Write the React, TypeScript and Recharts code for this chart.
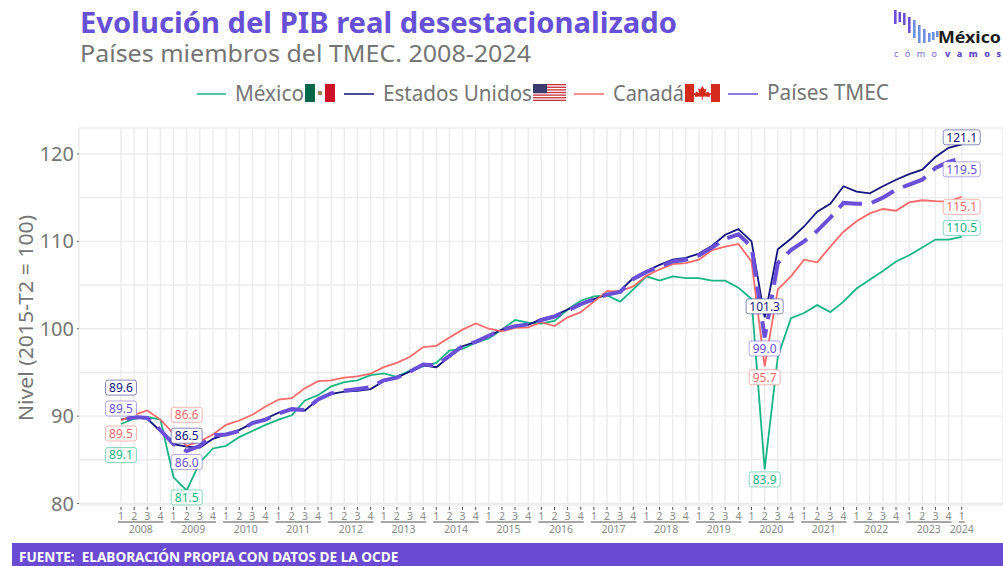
import { LineChart, Line, XAxis, YAxis, CartesianGrid, LabelList } from 'recharts';

const years = [2008, 2009, 2010, 2011, 2012, 2013, 2014, 2015, 2016, 2017, 2018, 2019, 2020, 2021, 2022, 2023, 2024];

const mexico = [
  89.1, 89.7, 89.9, 89.6,
  83.0, 81.5, 84.7, 86.3,
  86.6, 87.6, 88.3, 89.0,
  89.6, 90.1, 91.8, 92.4,
  93.4, 93.9, 94.1, 94.7,
  94.9, 94.5, 95.2, 95.7,
  96.1, 97.5, 97.7, 98.4,
  98.9, 99.9, 101.0, 100.7,
  100.6, 100.9, 102.2, 103.2,
  103.7, 103.8, 103.1, 104.5,
  106.0, 105.5, 106.0, 105.8,
  105.8, 105.5, 105.5, 104.7,
  103.4, 83.9, 96.8, 101.2,
  101.8, 102.7, 101.9, 103.1,
  104.6, 105.6, 106.6, 107.7,
  108.4, 109.3, 110.2, 110.2,
  110.5,
];

const estadosUnidos = [
  89.6, 89.9, 89.7, 88.3,
  86.8, 86.5, 86.4, 87.4,
  87.9, 88.4, 89.2, 89.7,
  90.4, 90.8, 90.65, 91.9,
  92.55, 92.8, 92.9, 93.1,
  94.0, 94.4, 95.1, 95.8,
  95.6, 96.8, 98.0, 98.5,
  99.2, 99.9, 100.3, 100.45,
  101.1, 101.5, 102.2, 102.9,
  103.4, 103.9, 104.35, 105.8,
  106.6, 107.3, 107.9, 108.1,
  108.6, 109.5, 110.75, 111.4,
  110.0, 101.3, 109.1, 110.3,
  111.7, 113.4, 114.3, 116.3,
  115.7, 115.5, 116.3, 117.05,
  117.7, 118.2, 119.65, 120.7,
  121.1,
];

const canada = [
  89.5, 90.15, 90.65, 89.6,
  88.0, 86.6, 87.1, 87.9,
  89.0, 89.5, 90.15, 91.1,
  91.9, 92.05, 93.2, 94.0,
  94.1, 94.4, 94.55, 94.85,
  95.6, 96.1, 96.8, 97.9,
  98.05, 99.0, 99.9, 100.6,
  100.0, 99.7, 100.1, 100.15,
  100.75, 100.3, 101.3, 101.9,
  103.1, 104.3, 104.3, 104.85,
  106.05, 106.8, 107.4, 107.5,
  107.9, 109.0, 109.4, 109.7,
  107.7, 95.7, 104.5, 106.0,
  107.9, 107.6, 109.4, 111.1,
  112.3, 113.2, 113.7, 113.5,
  114.45, 114.7, 114.6, 114.55,
  115.1,
];

const paisesTmec = [
  89.5, 89.9, 89.8, 88.4,
  86.8, 86.0, 86.6, 87.8,
  87.9, 88.3, 89.2, 89.6,
  90.3, 90.8, 90.7, 91.9,
  92.6, 92.9, 93.1, 93.3,
  94.1, 94.4, 95.1, 95.9,
  95.8, 96.9, 98.0, 98.5,
  99.2, 99.9, 100.3, 100.5,
  101.0, 101.4, 102.1, 102.8,
  103.4, 103.9, 104.2, 105.7,
  106.5, 107.1, 107.7, 107.9,
  108.4, 109.3, 110.3, 110.8,
  109.4, 99.0, 107.5, 109.0,
  110.0, 111.2, 112.7, 114.4,
  114.3, 114.3, 115.0, 115.9,
  116.5, 117.05, 118.4, 119.1,
  119.5,
];

const yTicks = [80, 85, 90, 95, 100, 105, 110, 115, 120];

// one row per quarter, year + quarter come from the position in the arrays
const data = mexico.map((_, i) => ({
  key: `${years[Math.floor(i / 4)]}-${(i % 4) + 1}`,
  mexico: mexico[i],
  eu: estadosUnidos[i],
  canada: canada[i],
  tmec: paisesTmec[i],
}));

const series = [
  { key: 'mexico', color: '#17b584', width: 1.8, labelDy: { 0: 31, 5: 7, 49: 10, 64: -9 } },
  { key: 'eu', color: '#14147e', width: 1.8, labelDy: { 0: -32, 5: -11, 49: -11, 64: -7 } },
  { key: 'canada', color: '#fb6a6a', width: 1.8, labelDy: { 0: 13, 5: -31, 49: 11, 64: 10 } },
  { key: 'tmec', color: '#6a50d8', width: 4, dash: '25 10', labelDy: { 0: -12, 5: 11, 49: 11, 64: 11 } },
];

const FONT = '"Noto Sans", sans-serif';
const GRAY = '#757575';
const STEP = 13.135;

const QuarterTick = ({ x, y, index }: any) => {
  const q = (index % 4) + 1;
  const year = years[Math.floor(index / 4)];
  const isLast = index === mexico.length - 1;
  return (
    <g fontFamily={FONT} fill="#8a8a8a">
      <line x1={x} x2={x} y1={507} y2={510} stroke="#555" strokeWidth={1} />
      <text x={x} y={520} fontSize={10.5} textAnchor="middle">{q}</text>
      {q === 1 && (
        <>
          <line
            x1={x - 3}
            x2={isLast ? x + 3 : x + 3 * STEP + 3}
            y1={522}
            y2={522}
            stroke="#8a8a8a"
            strokeWidth={1.4}
          />
          <text x={isLast ? x : x + 1.5 * STEP} y={533} fontSize={10.5} textAnchor="middle">{year}</text>
        </>
      )}
    </g>
  );
};

const LevelTick = ({ x, y, payload }: any) => {
  if (payload.value % 10 !== 0) return null;
  return (
    <g>
      <line x1={77} x2={79} y1={y} y2={y} stroke="#666" strokeWidth={1} />
      <text x={74} y={y + 7} fontSize={20} fontFamily={FONT} fill={GRAY} textAnchor="end">
        {payload.value}
      </text>
    </g>
  );
};

const boxLabel = (color: string, offsets: any) => (props: any) => {
  const { x, y, value, index } = props;
  const dy = offsets[index];
  if (dy === undefined) return null;
  const w = value >= 100 ? 37 : 31;
  const text = Number(value).toFixed(1);
  return (
    <g>
      <rect
        x={x - w / 2}
        y={y + dy - 7.5}
        width={w}
        height={15}
        rx={2.5}
        fill="#fff"
        stroke={color}
        strokeOpacity={0.5}
        strokeWidth={1}
      />
      <text x={x} y={y + dy + 4.5} fontSize={12} fontFamily={FONT} fill={color} textAnchor="middle">
        {text}
      </text>
    </g>
  );
};

const Mexico = ({ x }: { x: number }) => (
  <g transform={`translate(${x},84)`}>
    <rect width={10} height={18} fill="#006847" />
    <rect x={10} width={10} height={18} fill="#fff" />
    <rect x={20} width={10} height={18} fill="#ce1126" />
    <circle cx={15} cy={9} r={2.2} fill="#9a7b4f" />
  </g>
);

const Usa = ({ x }: { x: number }) => (
  <g transform={`translate(${x},84)`}>
    <rect width={33} height={17} fill="#fff" />
    {[0, 2, 4, 6, 8, 10, 12].map((s) => (
      <rect key={s} y={(s * 17) / 13} width={33} height={17 / 13} fill="#c8313e" />
    ))}
    <rect width={14} height={9.2} fill="#3c3b6e" />
  </g>
);

const Canada = ({ x }: { x: number }) => (
  <g transform={`translate(${x},84)`}>
    <rect width={35} height={18} fill="#fff" />
    <rect width={9} height={18} fill="#d52b1e" />
    <rect x={26} width={9} height={18} fill="#d52b1e" />
    <path
      d="M17.5 2 l2 3.5 2-1 -1 4.5 3-1.5 .5 1.5 2.5 .5 -2 2.5 .5 1 -5 -.5 -2.2 .3 v3 h-1 v-3 l-2.2 -.3 -5 .5 .5 -1 -2 -2.5 2.5 -.5 .5 -1.5 3 1.5 -1 -4.5 2 1z"
      fill="#d52b1e"
    />
  </g>
);

const Header = () => (
  <svg width={1003} height={128} style={{ position: 'absolute', left: 0, top: 0 }} fontFamily={FONT}>
    <text x={80} y={33} fontSize={28} fontWeight={700} fill="#6650d8" textLength={597} lengthAdjust="spacingAndGlyphs">
      Evolución del PIB real desestacionalizado
    </text>
    <text x={80} y={62} fontSize={24} fill={GRAY} textLength={451} lengthAdjust="spacingAndGlyphs">
      Países miembros del TMEC. 2008-2024
    </text>

    <line x1={197} x2={226} y1={94} y2={94} stroke="#17b584" strokeWidth={1.5} />
    <text x={235} y={101} fontSize={21} fill={GRAY} textLength={69} lengthAdjust="spacingAndGlyphs">México</text>
    <Mexico x={305} />
    <line x1={344} x2={374} y1={94} y2={94} stroke="#14147e" strokeWidth={1.5} />
    <text x={383} y={101} fontSize={21} fill={GRAY} textLength={149} lengthAdjust="spacingAndGlyphs">Estados Unidos</text>
    <Usa x={533} />
    <line x1={574} x2={604} y1={94} y2={94} stroke="#fb6a6a" strokeWidth={1.5} />
    <text x={613} y={101} fontSize={21} fill={GRAY} textLength={71} lengthAdjust="spacingAndGlyphs">Canadá</text>
    <Canada x={685} />
    <line x1={728} x2={758} y1={94} y2={94} stroke="#6a50d8" strokeWidth={1.5} />
    <text x={767} y={100} fontSize={21} fill={GRAY} textLength={122} lengthAdjust="spacingAndGlyphs">Países TMEC</text>

    {/* logo */}
    {[
      [894, 10, 14], [898.5, 12, 10], [903, 13, 12], [908, 17, 16], [913, 20, 18],
      [918, 25, 18], [923, 29, 14], [928, 33, 9], [932, 32, 8], [936, 31, 6],
    ].map(([bx, by, bh], i) => (
      <rect key={i} x={bx} y={by} width={2.6} height={bh} fill={i < 4 ? '#6a50d8' : '#6f8fe0'} />
    ))}
    <text x={938} y={43} fontSize={16.5} fontWeight={700} fill="#1c1c1c" textLength={63} lengthAdjust="spacingAndGlyphs">México</text>
    <text x={894} y={57} fontSize={9} fill="#7d6be0" textLength={43}>cómo</text>
    <text x={945} y={57} fontSize={9} fontWeight={800} fill="#5a45c8" textLength={56}>vamos</text>
  </svg>
);

export default function App() {
  return (
    <div style={{ position: 'absolute', left: 0, top: 0, width: 1003, height: 566, background: '#fff', overflow: 'hidden' }}>
      <Header />
      <div style={{ position: 'absolute', left: 0, top: 0 }}>
        <LineChart width={1003} height={566} data={data} margin={{ top: 128, right: 0, bottom: 0, left: 0 }}>
          <CartesianGrid stroke="#ececec" strokeWidth={1.4} />
          <XAxis
            dataKey="key"
            interval={0}
            height={61}
            padding={{ left: 42, right: 41.3 }}
            axisLine={false}
            tickLine={false}
            tick={QuarterTick}
          />
          <YAxis
            width={79}
            domain={[79.83, 122.97]}
            ticks={yTicks}
            interval={0}
            allowDataOverflow
            axisLine={false}
            tickLine={false}
            tick={LevelTick}
          />
          {series.map((s) => (
            <Line
              key={s.key}
              dataKey={s.key}
              stroke={s.color}
              strokeWidth={s.width}
              strokeDasharray={s.dash}
              strokeDashoffset={s.dash ? -6 : undefined}
              dot={false}
              activeDot={false}
              isAnimationActive={false}
            />
          ))}
          {/* labels go in a second pass so they sit above every line */}
          {series.map((s) => (
            <Line
              key={`${s.key}-labels`}
              dataKey={s.key}
              stroke="none"
              dot={false}
              activeDot={false}
              isAnimationActive={false}
            >
              <LabelList dataKey={s.key} content={boxLabel(s.color, s.labelDy)} />
            </Line>
          ))}
        </LineChart>
      </div>
      <svg width={40} height={300} style={{ position: 'absolute', left: 0, top: 170 }}>
        <text
          transform="translate(33,148) rotate(-90)"
          fontSize={20}
          fontFamily={FONT}
          fill={GRAY}
          textAnchor="middle"
          textLength={206}
          lengthAdjust="spacingAndGlyphs"
        >
          Nivel (2015-T2 = 100)
        </text>
      </svg>
      <div
        style={{
          position: 'absolute',
          left: 12,
          top: 543,
          right: 0,
          height: 23,
          background: '#6a4ad2',
          color: '#fff',
          fontFamily: FONT,
          fontWeight: 700,
          fontSize: 13.6,
          lineHeight: '28px',
          paddingLeft: 7,
          whiteSpace: 'pre',
        }}
      >
        FUENTE:  ELABORACIÓN PROPIA CON DATOS DE LA OCDE
      </div>
    </div>
  );
}
